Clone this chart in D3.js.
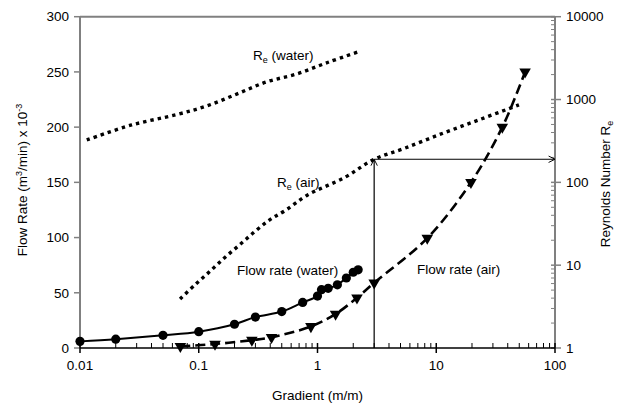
<!DOCTYPE html>
<html>
<head>
<meta charset="utf-8">
<script src="https://cdn.jsdelivr.net/npm/d3@7"></script>
<style>
  body { margin: 0; background: #fff; }
  text { font-family: "Liberation Sans", Arial, sans-serif; font-size: 13.5px; fill: #000; }
</style>
</head>
<body>
<svg id="chart" width="618" height="406"></svg>
<script>
// flow rate (water), circles
var waterX    = [0.01, 0.02, 0.05, 0.1, 0.2, 0.3, 0.5, 0.75, 1.0, 1.08, 1.23, 1.47, 1.75, 2.0, 2.2];
var waterFlow = [6, 8, 11.5, 14.8, 21.5, 28, 33, 41.3, 47, 52.8, 54, 57.2, 63.4, 68.6, 70.8];
// flow rate (air), triangles
var airX    = [0.07, 0.137, 0.28, 0.41, 0.88, 1.42, 2.15, 3.0, 8.4, 19.6, 36, 56];
var airFlow = [1.5, 3.6, 7.1, 9.7, 19.5, 30.8, 45.5, 59, 99.5, 150, 200, 250];
// Reynolds numbers (right axis)
var reWaterX = [0.0114, 0.0272, 0.0652, 0.117, 0.211, 0.372, 0.67, 1.23, 2.24];
var reWater  = [325, 493, 658, 837, 1170, 1633, 2037, 2818, 3793];
var reAirX = [0.0696, 0.093, 0.124, 0.166, 0.222, 0.298, 0.398, 0.538, 0.82, 1.70, 3.0, 5.42, 11.4, 23.6, 49.7];
var reAir  = [3.9, 5.8, 8.4, 12.4, 17.7, 25.6, 35.5, 46, 70, 115, 190, 258, 392, 578, 861];
// arrow reading: gradient 3 -> Re 190
var arrowX = 3, arrowRe = 190;

var xTicks = [0.01, 0.1, 1, 10, 100];
var yLeftTicks = [0, 50, 100, 150, 200, 250, 300];
var yRightTicks = [1, 10, 100, 1000, 10000];

var margin = {left: 80, right: 63, top: 16.7, bottom: 58};
var width = 618, height = 406;

var svg = d3.select('#chart');

var x = d3.scaleLog().domain([0.01, 100]).range([margin.left, width - margin.right]);
var yL = d3.scaleLinear().domain([0, 300]).range([height - margin.bottom, margin.top]);
var yR = d3.scaleLog().domain([1, 10000]).range([height - margin.bottom, margin.top]);

var x0 = margin.left, x1 = width - margin.right;
var yb = height - margin.bottom, yt = margin.top;

// minor tick values for log axes
function minors(lo, hi) {
  var out = [];
  for (var d = lo; d < hi; d *= 10) {
    for (var k = 2; k <= 9; k++) out.push(d * k);
  }
  return out;
}

// frame: top + left + right in gray
svg.append('line').attr('x1', x0).attr('x2', x1).attr('y1', yt).attr('y2', yt)
  .attr('stroke', '#808080').attr('stroke-width', 2);
svg.append('line').attr('x1', x0).attr('x2', x0).attr('y1', yt).attr('y2', yb)
  .attr('stroke', '#808080').attr('stroke-width', 2);
svg.append('line').attr('x1', x1).attr('x2', x1).attr('y1', yt).attr('y2', yb)
  .attr('stroke', '#808080').attr('stroke-width', 2);

// left axis ticks + labels
svg.selectAll('.ltick').data(yLeftTicks).enter().append('line')
  .attr('x1', x0 - 6).attr('x2', x0).attr('y1', d => yL(d)).attr('y2', d => yL(d))
  .attr('stroke', '#808080').attr('stroke-width', 1.5);
svg.selectAll('.llab').data(yLeftTicks).enter().append('text')
  .attr('x', x0 - 11).attr('y', d => yL(d)).attr('dy', '0.35em')
  .attr('text-anchor', 'end').text(d => d);

// right axis ticks + labels
svg.selectAll('.rmin').data(minors(1, 10000)).enter().append('line')
  .attr('x1', x1 - 4).attr('x2', x1 + 1).attr('y1', d => yR(d)).attr('y2', d => yR(d))
  .attr('stroke', '#808080').attr('stroke-width', 1);
svg.selectAll('.rtick').data(yRightTicks).enter().append('line')
  .attr('x1', x1 - 4).attr('x2', x1 + 6).attr('y1', d => yR(d)).attr('y2', d => yR(d))
  .attr('stroke', '#808080').attr('stroke-width', 1.5);
svg.selectAll('.rlab').data(yRightTicks).enter().append('text')
  .attr('x', x1 + 11).attr('y', d => yR(d)).attr('dy', '0.35em')
  .text(d => d);

// bottom axis (black)
svg.append('line').attr('x1', x0).attr('x2', x1).attr('y1', yb).attr('y2', yb)
  .attr('stroke', '#000').attr('stroke-width', 1.5);
svg.selectAll('.xmin').data(minors(0.01, 100)).enter().append('line')
  .attr('x1', d => x(d)).attr('x2', d => x(d)).attr('y1', yb - 5).attr('y2', yb)
  .attr('stroke', '#000').attr('stroke-width', 1);
svg.selectAll('.xtick').data(xTicks).enter().append('line')
  .attr('x1', d => x(d)).attr('x2', d => x(d)).attr('y1', yb - 5).attr('y2', yb + 5)
  .attr('stroke', '#000').attr('stroke-width', 1.5);
svg.selectAll('.xlab').data(xTicks).enter().append('text')
  .attr('x', d => x(d)).attr('y', yb + 22)
  .attr('text-anchor', 'middle').text(d => d);

// axis titles
svg.append('text').attr('x', (x0 + x1) / 2).attr('y', 400).attr('text-anchor', 'middle')
  .text('Gradient (m/m)');

var lt = svg.append('text').attr('text-anchor', 'middle')
  .attr('transform', 'translate(27,180) rotate(-90)');
lt.append('tspan').text('Flow Rate (m');
lt.append('tspan').attr('dy', -5).style('font-size', '9px').text('3');
lt.append('tspan').attr('dy', 5).text('/min) x 10');
lt.append('tspan').attr('dy', -5).style('font-size', '9px').text('-3');

var rt = svg.append('text').attr('text-anchor', 'middle')
  .attr('transform', 'translate(610,184) rotate(-90)');
rt.append('tspan').text('Reynolds Number R');
rt.append('tspan').attr('dy', 3).style('font-size', '9px').text('e');

// arrow showing the reading at gradient 3
var defs = svg.append('defs');
defs.append('marker').attr('id', 'arr').attr('viewBox', '0 0 10 10')
  .attr('refX', 9).attr('refY', 5).attr('markerWidth', 8).attr('markerHeight', 8)
  .attr('markerUnits', 'userSpaceOnUse').attr('orient', 'auto')
  .append('path').attr('d', 'M1,1 L9,5 L1,9').attr('fill', 'none').attr('stroke', '#000').attr('stroke-width', 1.2);

svg.append('line').attr('x1', x(arrowX)).attr('x2', x(arrowX))
  .attr('y1', yb).attr('y2', yR(arrowRe))
  .attr('stroke', '#000').attr('stroke-width', 1.2).attr('marker-end', 'url(#arr)');
svg.append('line').attr('x1', x(arrowX)).attr('x2', x1)
  .attr('y1', yR(arrowRe)).attr('y2', yR(arrowRe))
  .attr('stroke', '#000').attr('stroke-width', 1).attr('marker-end', 'url(#arr)');

// Reynolds dotted lines (square dots)
var reLine = d3.line().x(d => x(d[0])).y(d => yR(d[1])).curve(d3.curveCatmullRom);
svg.append('path').datum(d3.zip(reWaterX, reWater)).attr('d', reLine)
  .attr('fill', 'none').attr('stroke', '#000').attr('stroke-width', 3.4)
  .attr('stroke-dasharray', '3.4,4');
svg.append('path').datum(d3.zip(reAirX, reAir)).attr('d', reLine)
  .attr('fill', 'none').attr('stroke', '#000').attr('stroke-width', 3.4)
  .attr('stroke-dasharray', '3.4,4');

// flow rate lines
var flowLine = d3.line().x(d => x(d[0])).y(d => yL(d[1])).curve(d3.curveCatmullRom);
svg.append('path').datum(d3.zip(waterX, waterFlow)).attr('d', flowLine)
  .attr('fill', 'none').attr('stroke', '#000').attr('stroke-width', 2);
svg.append('path').datum(d3.zip(airX, airFlow)).attr('d', flowLine)
  .attr('fill', 'none').attr('stroke', '#000').attr('stroke-width', 2.6)
  .attr('stroke-dasharray', '10,5');

svg.selectAll('.wpt').data(d3.zip(waterX, waterFlow)).enter().append('circle')
  .attr('cx', d => x(d[0])).attr('cy', d => yL(d[1])).attr('r', 4.6).attr('fill', '#000');

var tri = d3.symbol().type(d3.symbolTriangle).size(58);
svg.selectAll('.apt').data(d3.zip(airX, airFlow)).enter().append('path')
  .attr('d', tri)
  .attr('transform', d => 'translate(' + x(d[0]) + ',' + yL(d[1]) + ') rotate(180)')
  .attr('fill', '#000');

// series labels
function reLabel(px, py, what) {
  var t = svg.append('text').attr('x', px).attr('y', py);
  t.append('tspan').text('R');
  t.append('tspan').attr('dy', 3).style('font-size', '9px').text('e');
  t.append('tspan').attr('dy', -3).text(' (' + what + ')');
}
reLabel(253, 60, 'water');
reLabel(277, 187, 'air');
svg.append('text').attr('x', 237).attr('y', 275).text('Flow rate (water)');
svg.append('text').attr('x', 417).attr('y', 274).text('Flow rate (air)');
</script>
</body>
</html>
